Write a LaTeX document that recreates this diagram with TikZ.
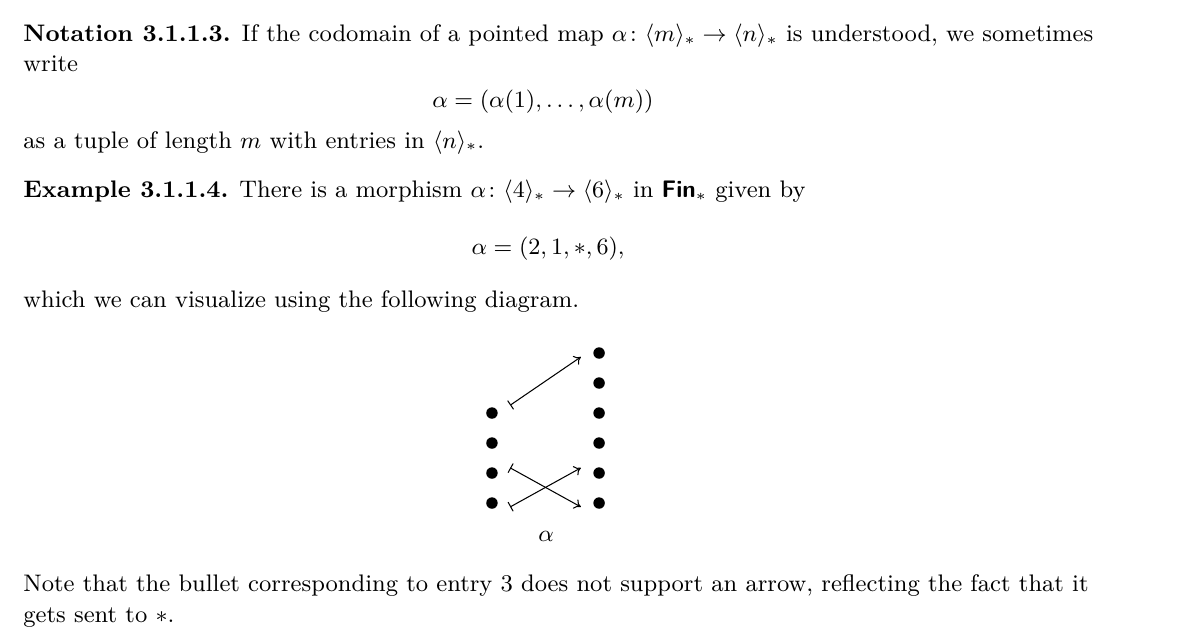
\documentclass[tikz,border=0pt]{standalone}
\usepackage{amsmath,amssymb}
\usetikzlibrary{arrows.meta}
\begin{document}
\fontsize{9.2}{11}\selectfont
\begin{tikzpicture}[x=1pt,y=1pt,
  txt/.style={anchor=base west,inner sep=0pt},
  eqn/.style={anchor=base,inner sep=0pt},
  dot/.style={circle,fill=black,inner sep=0pt,minimum size=4.4pt},
  mapto/.style={{Bar[width=4pt]}-{To[length=2.5pt,width=4pt]},line width=0.4pt}]
\useasboundingbox (0,0) rectangle (461.5,-246.5);
\node[txt] (l1) at (8.8,-16) {\textbf{Notation 3.1.1.3.} If the codomain of a pointed map $\alpha\colon\langle m\rangle_*\to\langle n\rangle_*$ is understood, we sometimes};
\node[txt] (l2) at (8.8,-27.5) {write};
\node[eqn] (e1) at (208.8,-41.3) {$\alpha=(\alpha(1),\dots,\alpha(m))$};
\node[txt] (l3) at (8.8,-57) {as a tuple of length $m$ with entries in $\langle n\rangle_*$.};
\node[txt] (l4) at (8.8,-76) {\textbf{Example 3.1.1.4.} There is a morphism $\alpha\colon\langle 4\rangle_*\to\langle 6\rangle_*$ in $\textsf{\bfseries Fin}_*$ given by};
\node[eqn] (e2) at (210.8,-97.8) {$\alpha=(2,1,*,6),$};
\node[txt] (l5) at (8.8,-118.2) {which we can visualize using the following diagram.};
% diagram
\foreach \i/\y in {4/413,3/443,2/473,1/503}
  \node[dot] (a\i) at (189.2,-\y/2.6) {};
\foreach \i/\y in {6/353,5/383,4/413,3/443,2/473,1/503}
  \node[dot] (b\i) at (230.4,-\y/2.6) {};
\draw[mapto] ([xshift=7pt,yshift=3pt]a4.center) -- ([xshift=-7pt,yshift=-1.5pt]b6.center);
\draw[mapto] ([xshift=7pt,yshift=2pt]a2.center) -- ([xshift=-7pt,yshift=-1.5pt]b1.center);
\draw[mapto] ([xshift=7pt,yshift=-1.5pt]a1.center) -- ([xshift=-7pt,yshift=2pt]b2.center);
\node[eqn] (al) at (210,-208.2) {$\alpha$};
\node[txt] (l6) at (8.8,-227.5) {Note that the bullet corresponding to entry 3 does not support an arrow, reflecting the fact that it};
\node[txt] (l7) at (8.8,-239.5) {gets sent to $*$.};
\end{tikzpicture}
\end{document}
